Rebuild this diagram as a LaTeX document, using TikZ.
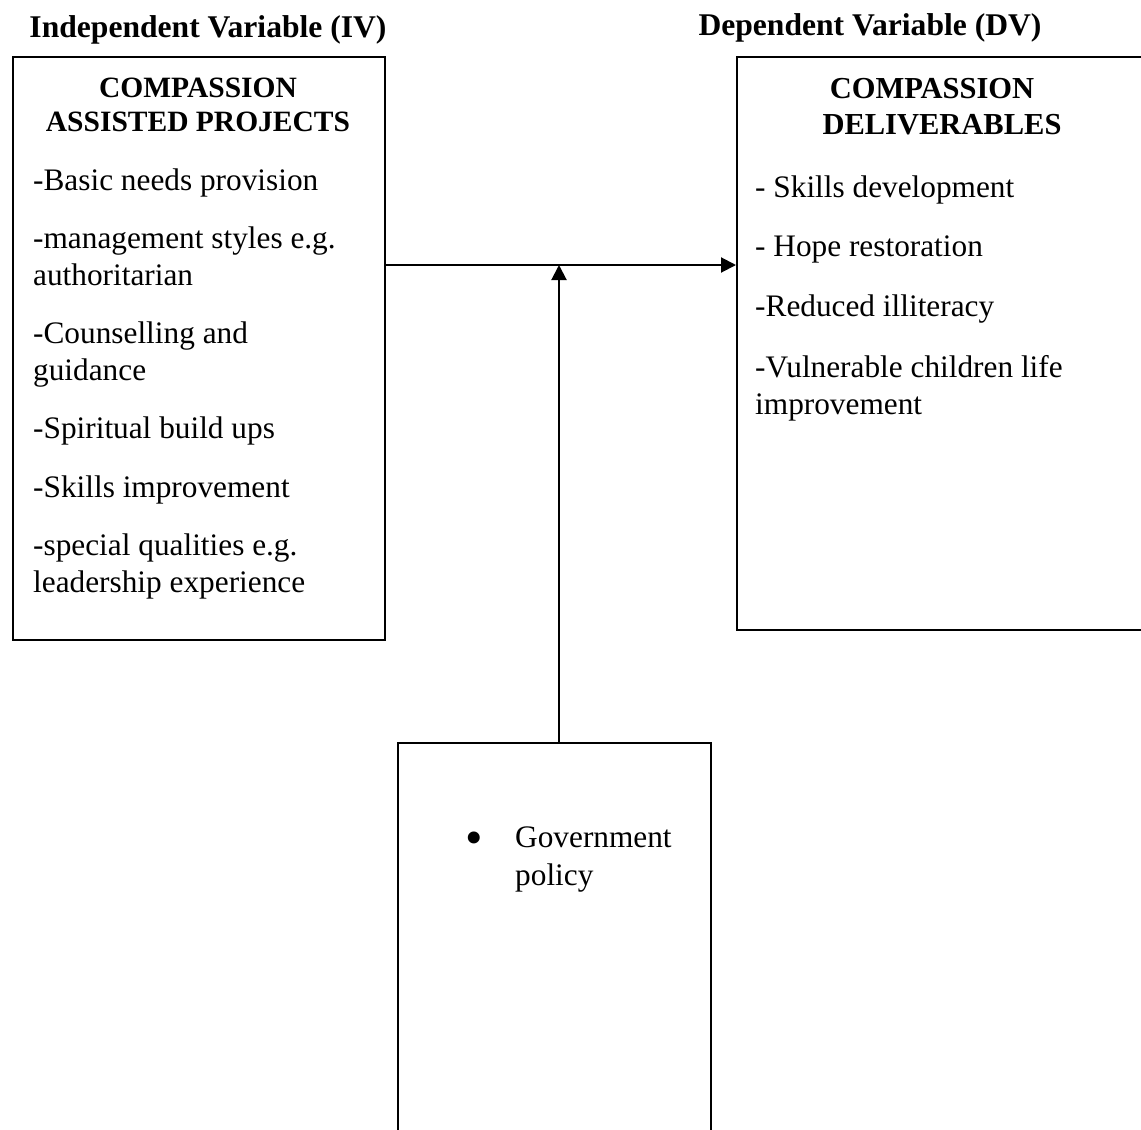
\documentclass[tikz,border=0pt]{standalone}
\usepackage{fontspec}
\setmainfont{Liberation Serif}
\usepackage{tikz}
\usetikzlibrary{positioning}
\usetikzlibrary{arrows.meta}

\begin{document}
\begin{tikzpicture}[
x=1pt, y=-1pt,
box/.style={draw, line width=2pt, inner sep=0pt},
title/.style={anchor=base, inner sep=0pt, font=\bfseries\fontsize{31.6}{37}\selectfont},
head/.style={anchor=base, inner sep=0pt, font=\bfseries\fontsize{30.5}{36}\selectfont},
item/.style={anchor=base west, inner sep=0pt, font=\fontsize{31.3}{37}\selectfont},
edge/.style={-{Triangle[length=15pt,width=15pt]}, line width=2pt}
]
\useasboundingbox (0,0) rectangle (1141,1130);
\clip (0,0) rectangle (1141,1130);

%Titles
\node[title] (iv) at (208,37) {Independent Variable (IV)};
\node[title] (dv) at (870,35) {Dependent Variable (DV)};

%Boxes
\node[box, minimum width=372pt, minimum height=583pt] (lbox) at (199,348.5) {};
\node[box, minimum width=408pt, minimum height=573pt] (rbox) at (941,343.5) {};
\node[box, minimum width=313pt, minimum height=427pt] (gbox) at (554.5,956.5) {};

%Headings
\node[head, font=\bfseries\fontsize{29.5}{35}\selectfont] (lh1) at (198,97) {COMPASSION};
\node[head, font=\bfseries\fontsize{29.5}{35}\selectfont] (lh2) at (198,131) {ASSISTED PROJECTS};
\node[head] (rh1) at (932,98) {COMPASSION};
\node[head] (rh2) at (942,134) {DELIVERABLES};

%Items
\foreach \y/\t [count=\i] in {190/-Basic needs provision, 248/-management styles e.g., 285/authoritarian,
  343/-Counselling and, 380/guidance, 438/-Spiritual build ups, 497/-Skills improvement,
  555/-special qualities e.g., 592/leadership experience}
  \node[item] (l\i) at (33,\y) {\t};
\foreach \y/\t [count=\i] in {197/- Skills development, 256/- Hope restoration, 316/-Reduced illiteracy,
  377/-Vulnerable children life, 414/improvement}
  \node[item] (r\i) at (755,\y) {\t};

\node[item, anchor=base, font=\fontsize{50}{50}\selectfont] (dot) at (474,854) {\textbullet};
\node[item] (g1) at (515,847) {Government};
\node[item] (g2) at (515,885) {policy};

%Lines
\coordinate (join) at (559,265);
\draw[edge] (lbox.east |- join) -- (rbox.west |- join);
\draw[edge] (gbox.north -| join) -- (join);

\end{tikzpicture}
\end{document}
